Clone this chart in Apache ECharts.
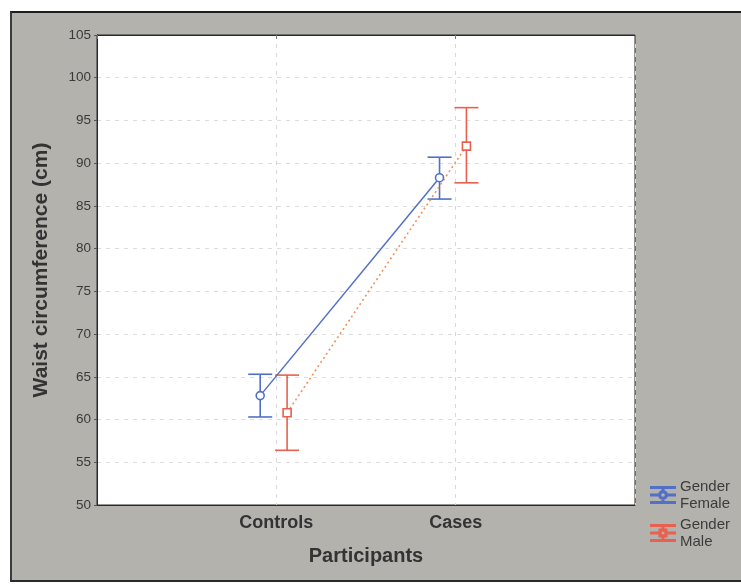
<!DOCTYPE html>
<html>
<head>
<meta charset="utf-8">
<script src="https://cdn.jsdelivr.net/npm/echarts@6/dist/echarts.min.js"></script>
<style>
html,body{margin:0;padding:0;background:#fff;}
#frame{position:absolute;left:10px;top:11px;width:740px;height:571px;background:#b4b2ad;border-top:2px solid #1e1e1e;border-left:2px solid #3a3a3a;border-bottom:2px solid #2a2a2a;box-sizing:border-box;}
#chart{position:absolute;left:0;top:0;width:741px;height:585px;}
</style>
</head>
<body>
<div id="frame"></div>
<div id="chart"></div>
<script>
var categories = ['Controls', 'Cases'];
var yTicks = [50, 55, 60, 65, 70, 75, 80, 85, 90, 95, 100, 105];
var femaleMean = [62.8, 88.3];
var femaleLow  = [60.3, 85.8];
var femaleHigh = [65.3, 90.7];
var maleMean = [60.8, 92.0];
var maleLow  = [56.4, 87.7];
var maleHigh = [65.2, 96.5];

var femaleOffset = -0.09, maleOffset = 0.06;
var blue = '#5270c6', red = '#e8604f', orange = '#f0925e';

function pts(mean, off) { return mean.map(function (v, i) { return [i + 1 + off, v]; }); }
function bars(lo, hi, off) { return lo.map(function (v, i) { return [i + 1 + off, v, hi[i]]; }); }

function errRender(color) {
  return function (params, api) {
    var x = api.value(0);
    var a = api.coord([x, api.value(1)]);
    var b = api.coord([x, api.value(2)]);
    var hw = 12;
    var st = { stroke: color, lineWidth: 1.6 };
    return { type: 'group', children: [
      { type: 'line', shape: { x1: a[0], y1: a[1], x2: b[0], y2: b[1] }, style: st },
      { type: 'line', shape: { x1: a[0] - hw, y1: a[1], x2: a[0] + hw, y2: a[1] }, style: st },
      { type: 'line', shape: { x1: b[0] - hw, y1: b[1], x2: b[0] + hw, y2: b[1] }, style: st }
    ]};
  };
}

var iconBase = 'M0,0h24v1h-24z M0,15h24v1h-24z M11.5,0h1v4h-1z M11.5,12h1v4h-1z ';
var chart = echarts.init(document.getElementById('chart'));
chart.setOption({
  backgroundColor: 'transparent',
  animation: false,
  textStyle: { fontFamily: 'Liberation Sans, Arial, sans-serif' },
  grid: { left: 97, right: 106, top: 35, bottom: 80, show: true, backgroundColor: '#fff', borderColor: '#2a2a2a', borderWidth: 1 },
  legend: {
    orient: 'vertical', left: 645, top: 473, itemGap: 4, itemWidth: 24, itemHeight: 16,
    textStyle: { color: '#3c3c3c', fontSize: 15, lineHeight: 17 },
    formatter: function (n) { return 'Gender\n' + n; },
    data: [
      { name: 'Female', icon: 'path://' + iconBase + 'M0,7.5h7.5v1h-7.5z M16.5,7.5h7.5v1h-7.5z M8,8a4,4 0 1,1 8,0a4,4 0 1,1 -8,0z M9.2,8a2.8,2.8 0 1,0 5.6,0a2.8,2.8 0 1,0 -5.6,0z' },
      { name: 'Male', icon: 'path://' + iconBase + 'M0,7.5h8.5v1h-8.5z M15.5,7.5h8.5v1h-8.5z M8.5,4.5h7v7h-7z M9.7,5.7v4.6h4.6v-4.6z' }
    ]
  },
  xAxis: [{
    type: 'value', min: 0, max: 3, interval: 1,
    name: 'Participants', nameLocation: 'middle', nameGap: 41,
    nameTextStyle: { fontSize: 20, fontWeight: 'bold', color: '#333' },
    axisLine: { show: true, lineStyle: { color: '#2a2a2a' } },
    axisTick: { show: false },
    axisLabel: { fontSize: 18, fontWeight: 'bold', color: '#333', margin: 9,
      formatter: function (v) { return categories[v - 1] || ''; } },
    splitLine: { show: true, lineStyle: { color: '#d8d8d8', type: [4, 5] } }
  }, {
    type: 'value', position: 'top', min: 0, max: 3, interval: 1, z: 10,
    axisLine: { show: true, lineStyle: { color: '#2a2a2a' } },
    axisTick: { show: true, inside: true, length: 4, lineStyle: { color: '#777' } },
    axisLabel: { show: false }, splitLine: { show: false }
  }],
  yAxis: [{
    type: 'value', min: yTicks[0], max: yTicks[yTicks.length - 1], interval: 5,
    name: 'Waist circumference (cm)', nameLocation: 'middle', nameGap: 45,
    nameTextStyle: { fontSize: 21, fontWeight: 'bold', color: '#333' },
    axisLine: { show: true, lineStyle: { color: '#2a2a2a' } },
    axisTick: { show: true, length: 3, lineStyle: { color: '#555' } },
    axisLabel: { fontSize: 13.5, color: '#3a3a3a', margin: 6 },
    splitLine: { show: true, lineStyle: { color: '#dcdcdc', type: [4, 5] } }
  }, {
    type: 'value', position: 'right', min: yTicks[0], max: yTicks[yTicks.length - 1], interval: 5, z: 10,
    axisLine: { show: true, lineStyle: { color: '#2a2a2a' } },
    axisTick: { show: false }, axisLabel: { show: false }, splitLine: { show: false }
  }],
  series: [
    { name: 'Female', type: 'line', data: pts(femaleMean, femaleOffset), color: blue,
      lineStyle: { color: blue, width: 1.5 }, symbol: 'circle', symbolSize: 8,
      itemStyle: { color: '#fff', borderColor: blue, borderWidth: 1.6 }, z: 5 },
    { name: 'Male', type: 'line', data: pts(maleMean, maleOffset), color: red,
      lineStyle: { color: orange, width: 1.6, type: [2, 3] }, symbol: 'rect', symbolSize: 8,
      itemStyle: { color: '#fff', borderColor: red, borderWidth: 1.6 }, z: 5 },
    { name: 'FemaleErr', type: 'custom', renderItem: errRender(blue), data: bars(femaleLow, femaleHigh, femaleOffset), z: 3 },
    { name: 'MaleErr', type: 'custom', renderItem: errRender(red), data: bars(maleLow, maleHigh, maleOffset), z: 3 }
  ]
});
</script>
</body>
</html>
